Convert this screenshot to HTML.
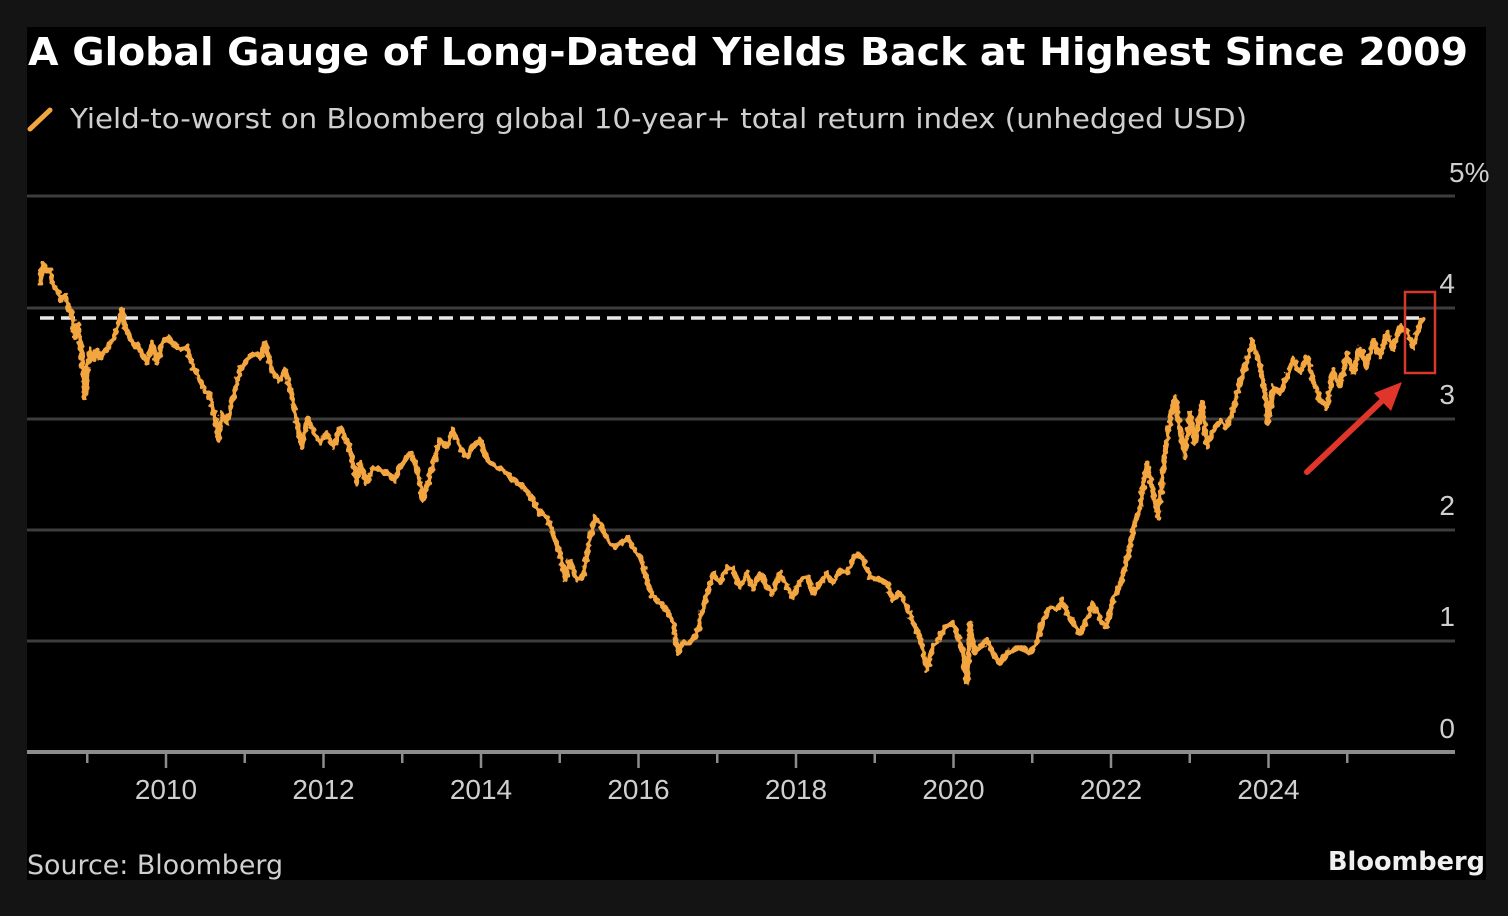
<!DOCTYPE html>
<html>
<head>
<meta charset="utf-8">
<style>
  html,body{margin:0;padding:0;background:#141414;}
  body{width:1508px;height:916px;overflow:hidden;}
  svg{display:block;}
</style>
</head>
<body>
<svg width="1508" height="916" viewBox="0 0 1508 916" xmlns="http://www.w3.org/2000/svg">
  <defs>
    <filter id="jit" x="-2%" y="-5%" width="104%" height="110%">
      <feTurbulence type="fractalNoise" baseFrequency="0.22" numOctaves="1" seed="7" result="n"/>
      <feDisplacementMap in="SourceGraphic" in2="n" scale="7" xChannelSelector="R" yChannelSelector="G"/>
    </filter>
  </defs>
  <rect x="0" y="0" width="1508" height="916" fill="#141414"/>
  <rect x="27" y="27" width="1459" height="853" fill="#000"/>

  <!-- Title -->
  <text x="28" y="65" font-family="DejaVu Sans, Liberation Sans, sans-serif" font-weight="bold" font-size="38" fill="#ffffff" textLength="1440" lengthAdjust="spacingAndGlyphs">A Global Gauge of Long-Dated Yields Back at Highest Since 2009</text>

  <!-- Legend -->
  <line x1="30" y1="129" x2="50" y2="110" stroke="#f3a640" stroke-width="5" stroke-linecap="round"/>
  <text x="70" y="128" font-family="DejaVu Sans, Liberation Sans, sans-serif" font-size="28" fill="#cfcfcf" textLength="1177" lengthAdjust="spacingAndGlyphs">Yield-to-worst on Bloomberg global 10-year+ total return index (unhedged USD)</text>

  <!-- Gridlines -->
  <g stroke="#3d3d3d" stroke-width="3">
    <line x1="27" y1="196" x2="1455" y2="196"/>
    <line x1="27" y1="308" x2="1455" y2="308"/>
    <line x1="27" y1="419" x2="1455" y2="419"/>
    <line x1="27" y1="530" x2="1455" y2="530"/>
    <line x1="27" y1="641" x2="1455" y2="641"/>
  </g>

  <!-- Y labels -->
  <g font-family="Liberation Sans, DejaVu Sans, sans-serif" font-size="28" fill="#cfcfcf">
    <text x="1449" y="182">5%</text>
    <text x="1455" y="293" text-anchor="end">4</text>
    <text x="1455" y="404" text-anchor="end">3</text>
    <text x="1455" y="515" text-anchor="end">2</text>
    <text x="1455" y="626" text-anchor="end">1</text>
    <text x="1455" y="738" text-anchor="end">0</text>
  </g>

  <!-- Dashed reference line -->
  <line x1="40" y1="318" x2="1422" y2="318" stroke="#e8e8e8" stroke-width="3.5" stroke-dasharray="14 7"/>

  <!-- Series -->
  <polyline filter="url(#jit)" fill="none" stroke="#f3a640" stroke-width="5" stroke-linejoin="round" stroke-linecap="round" points="
40,283 43,263 47,272 50,270 53,285 57,290 60,300 65,295 68,305 70,310 73,320 75,337 78,325 80,340 83,370 85,398 87,373 90,350 93,360 97,350 100,358 103,353 108,347 112,340 117,330 122,310 125,327 130,337 135,347 138,345 142,353 147,363 152,343 157,363 162,343 167,338 173,343 180,350 187,347 193,367 200,380 205,390 210,397 215,417 218,440 222,413 227,423 233,400 240,370 247,360 253,353 260,357 265,343 270,363 273,373 280,380 285,370 290,387
295,413 302,447 308,417 313,430 320,443 327,433 333,447 340,428 347,440 352,457 357,483 360,463 367,483 373,467 380,470 387,473 395,480 400,467 410,453 417,467 423,500 428,483 433,463 440,440 447,447 453,430 460,447 467,457 473,447 480,440 487,460 497,467 507,473 513,480 523,487 533,500 540,513 547,517 553,533 560,553 565,580 570,560 577,580 583,577 588,547 595,517 602,527 608,540 615,547 622,543 627,537 633,547 640,557 647,580 653,597 660,603 667,610 673,623 678,653 683,643 690,643 697,633 702,613 707,593 713,573 720,583 727,567 733,570 740,587 747,573 753,590 760,573 767,587 773,593 780,573 787,587 793,597 800,580 807,577 813,593 820,583 827,573 833,583 840,570 847,573 857,553 863,560 870,577 880,580 887,583 893,600 900,593 907,607 913,623 920,637 927,670 932,647 938,640 945,627 953,623 958,637 963,653 967,683 970,623 975,653 980,647 987,640 993,653 1000,663 1007,653 1013,650 1020,647 1030,653 1037,643 1043,620 1050,607 1057,610 1062,600 1067,613 1073,623 1080,633 1087,620 1093,603 1100,620 1107,627 1113,600 1120,585 1127,560 1133,530 1140,507 1147,463 1152,487 1158,517 1165,453 1170,420 1175,397 1180,430 1185,457 1190,413 1195,443 1202,403 1207,447 1213,430 1220,420 1227,427 1233,410 1240,383 1247,360 1253,340 1260,367 1265,393 1268,423 1273,387 1280,393 1287,377 1293,360 1300,373 1307,357 1313,380 1320,400 1327,407 1333,370 1340,387 1347,353 1353,373 1360,347 1367,367 1373,340 1380,357 1387,333 1393,350 1400,327 1408,333 1413,347 1418,330 1422,320"/>

  <!-- Red highlight box -->
  <rect x="1405" y="292" width="30" height="81" fill="none" stroke="#d8372c" stroke-width="2.5"/>

  <!-- Red arrow -->
  <line x1="1307" y1="472" x2="1386" y2="397" stroke="#e0352b" stroke-width="6" stroke-linecap="round"/>
  <polygon points="1402,382 1374,393 1391,411" fill="#e0352b"/>

  <!-- X axis -->
  <line x1="27" y1="752" x2="1455" y2="752" stroke="#8c8c8c" stroke-width="4"/>
  <g stroke="#8c8c8c" stroke-width="2.5">
    <line x1="87.25" y1="752" x2="87.25" y2="763"/>
    <line x1="166" y1="752" x2="166" y2="768"/>
    <line x1="244.75" y1="752" x2="244.75" y2="763"/>
    <line x1="323.5" y1="752" x2="323.5" y2="768"/>
    <line x1="402.25" y1="752" x2="402.25" y2="763"/>
    <line x1="481" y1="752" x2="481" y2="768"/>
    <line x1="559.75" y1="752" x2="559.75" y2="763"/>
    <line x1="638.5" y1="752" x2="638.5" y2="768"/>
    <line x1="717.25" y1="752" x2="717.25" y2="763"/>
    <line x1="796" y1="752" x2="796" y2="768"/>
    <line x1="874.75" y1="752" x2="874.75" y2="763"/>
    <line x1="953.5" y1="752" x2="953.5" y2="768"/>
    <line x1="1032.25" y1="752" x2="1032.25" y2="763"/>
    <line x1="1111" y1="752" x2="1111" y2="768"/>
    <line x1="1189.75" y1="752" x2="1189.75" y2="763"/>
    <line x1="1268.5" y1="752" x2="1268.5" y2="768"/>
    <line x1="1347.25" y1="752" x2="1347.25" y2="763"/>
  </g>
  <g font-family="Liberation Sans, DejaVu Sans, sans-serif" font-size="28" fill="#cfcfcf" text-anchor="middle">
    <text x="166" y="799">2010</text>
    <text x="323.5" y="799">2012</text>
    <text x="481" y="799">2014</text>
    <text x="638.5" y="799">2016</text>
    <text x="796" y="799">2018</text>
    <text x="953.5" y="799">2020</text>
    <text x="1111" y="799">2022</text>
    <text x="1268.5" y="799">2024</text>
  </g>

  <!-- Footer -->
  <text x="27" y="874" font-family="DejaVu Sans, Liberation Sans, sans-serif" font-size="27" fill="#cfcfcf" textLength="256" lengthAdjust="spacingAndGlyphs">Source: Bloomberg</text>
  <text x="1328" y="870" font-family="DejaVu Sans, Liberation Sans, sans-serif" font-weight="bold" font-size="26" fill="#f0f0f0" textLength="157" lengthAdjust="spacingAndGlyphs">Bloomberg</text>
</svg>
</body>
</html>
